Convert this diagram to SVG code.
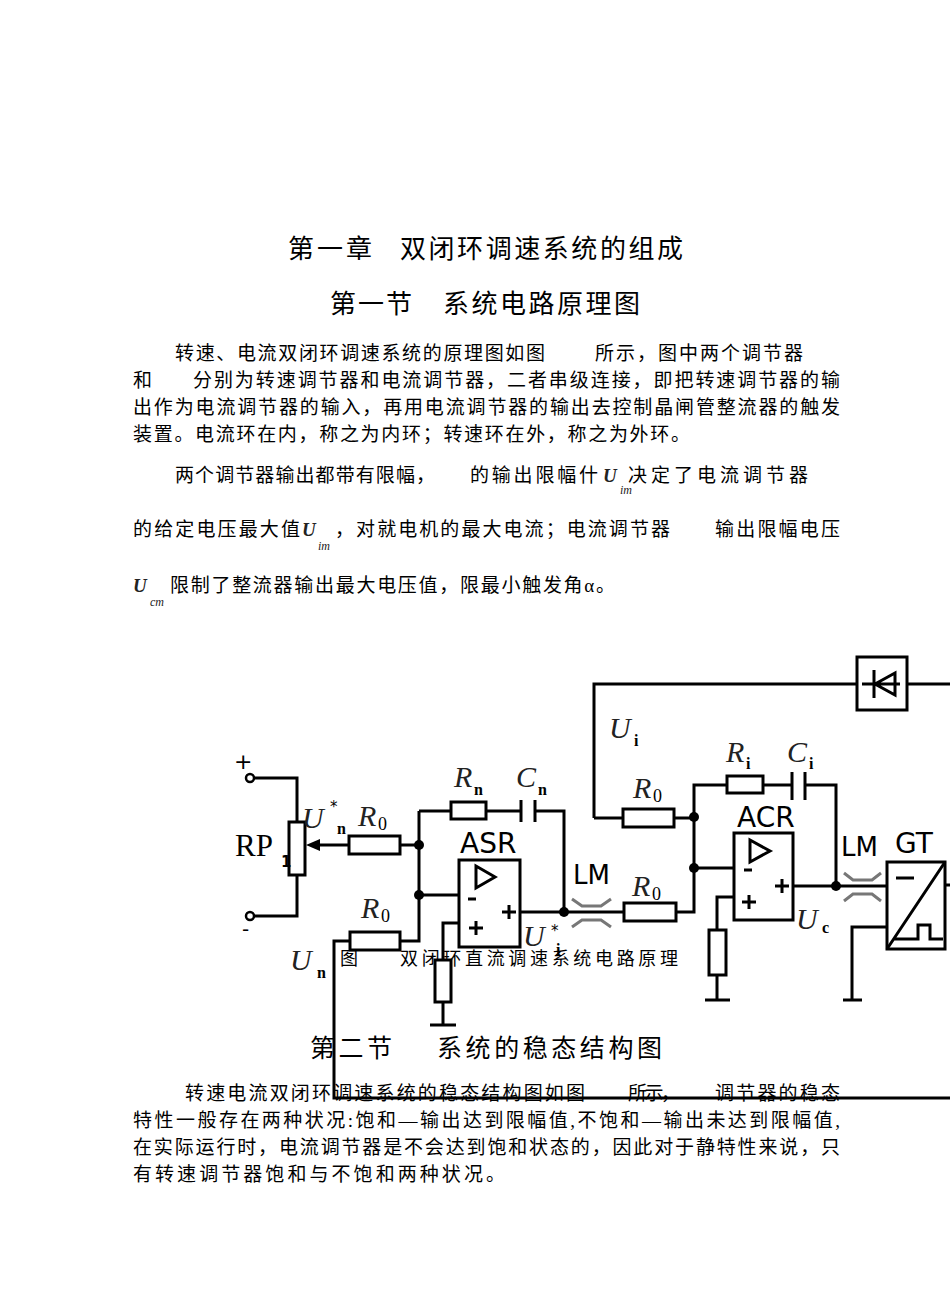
<svg xmlns="http://www.w3.org/2000/svg" width="950" height="1315" viewBox="0 0 950 1315">
<style>
.t{font-family:"Liberation Serif","Noto Sans CJK SC",serif;fill:#000}
.p{font-size:19px}
.m{font-family:"Liberation Serif",serif;font-style:italic;fill:#222}
.L{font-size:30px}
.sb{font-family:"Liberation Serif",serif;font-size:16px;font-weight:bold;fill:#000}
.z{font-family:"Liberation Serif",serif;font-size:18px;fill:#000}
.s{font-family:"DejaVu Sans",sans-serif;fill:#000}
.w{fill:none;stroke:#000;stroke-width:3}
.r{fill:#fff;stroke:#000;stroke-width:3}
.lm{fill:none;stroke:#777;stroke-width:3}
</style>
<rect width="950" height="1315" fill="#fff"/>
<g id="text">
<text class="t" x="288" y="258" font-size="26" textLength="84">第一章</text>
<text class="t" x="400" y="258" font-size="26" textLength="283">双闭环调速系统的组成</text>
<text class="t" x="330" y="313" font-size="26" textLength="82">第一节</text>
<text class="t" x="443" y="313" font-size="26" textLength="197">系统电路原理图</text>
<text class="t p" x="175" y="360" textLength="370">转速、电流双闭环调速系统的原理图如图</text>
<text class="t p" x="595" y="360" textLength="208">所示，图中两个调节器</text>
<text class="t p" x="133" y="387">和</text>
<text class="t p" x="193" y="387" textLength="647">分别为转速调节器和电流调节器，二者串级连接，即把转速调节器的输</text>
<text class="t p" x="133" y="414" textLength="707">出作为电流调节器的输入，再用电流调节器的输出去控制晶闸管整流器的触发</text>
<text class="t p" x="133" y="441" textLength="557">装置。电流环在内，称之为内环；转速环在外，称之为外环。</text>
<text class="t p" x="175" y="482" textLength="260">两个调节器输出都带有限幅，</text>
<text class="t p" x="470" y="482" textLength="128">的输出限幅什</text>
<text class="m" x="603" y="482" font-size="19" font-weight="bold">U</text>
<text class="m" x="620" y="494" font-size="12">im</text>
<text class="t p" x="628" y="482" textLength="180">决定了电流调节器</text>
<text class="t p" x="133" y="536" textLength="167">的给定电压最大值</text>
<text class="m" x="302" y="536" font-size="19" font-weight="bold">U</text>
<text class="m" x="318" y="550" font-size="12">im</text>
<text class="t p" x="335" y="536" textLength="335">，对就电机的最大电流；电流调节器</text>
<text class="t p" x="715" y="536" textLength="125">输出限幅电压</text>
<text class="m" x="133" y="592" font-size="19" font-weight="bold">U</text>
<text class="m" x="150" y="606" font-size="12">cm</text>
<text class="t p" x="170" y="592" textLength="445">限制了整流器输出最大电压值，限最小触发角α。</text>
<text class="t" x="340" y="965" font-size="18">图</text>
<text class="t" x="400" y="965" font-size="18" textLength="278">双闭环直流调速系统电路原理</text>
<text class="t" x="310" y="1057" font-size="25" textLength="82">第二节</text>
<text class="t" x="437" y="1057" font-size="25" textLength="225">系统的稳态结构图</text>
<text class="t p" x="185" y="1100" textLength="400">转速电流双闭环调速系统的稳态结构图如图</text>
<text class="t p" x="628" y="1100" textLength="52">所示，</text>
<text class="t p" x="715" y="1100" textLength="125">调节器的稳态</text>
<text class="t p" x="133" y="1127" textLength="707">特性一般存在两种状况:饱和—输出达到限幅值,不饱和—输出未达到限幅值,</text>
<text class="t p" x="133" y="1154" textLength="707">在实际运行时，电流调节器是不会达到饱和状态的，因此对于静特性来说，只</text>
<text class="t p" x="133" y="1181" textLength="372">有转速调节器饱和与不饱和两种状况。</text>
</g>
<g id="connectors">
<path class="w" d="M254,778H297V822M297,875V916H254"/>
<path class="w" d="M348,845H316"/>
<path d="M306,845L320,839L320,851Z" fill="#000"/>
<path class="w" d="M400,845H419M419,811V941H400M419,811H451M486,811H521M535,811H564V912M419,895H459M350,941H334V1098H950"/>
<path class="w" d="M520,912H624M676,912H694V785H727M763,785H792M805,785H836V886M694,868H734"/>
<path class="w" d="M459,923H443V960M443,1002V1025M430,1025H456"/>
<path class="w" d="M594,818V684H857M907,684H950M594,818H623M674,818H694"/>
<path class="w" d="M734,897H717V930M717,975V1000M705,1000H730"/>
<path class="w" d="M793,886H886M946,885H950M886,927H852V1000M843,1000H862"/>
<path class="w" d="M521,800V822M535,800V822M792,772V800M805,772V800"/>
<g fill="#000"><circle cx="419" cy="845" r="5"/><circle cx="419" cy="895" r="5"/><circle cx="564" cy="912" r="5"/><circle cx="694" cy="817" r="5"/><circle cx="694" cy="868" r="5"/><circle cx="836" cy="886" r="5"/></g>
<path class="lm" d="M572,899L582,906H601L611,899M572,927L582,920H601L611,927"/>
<path class="lm" d="M844,873L853,880H872L881,873M844,901L853,894H872L881,901"/>
</g>
<g id="terminals" fill="#fff" stroke="#000" stroke-width="2.5"><circle cx="250" cy="778" r="4"/><circle cx="250" cy="916" r="4"/></g>
<g id="RP1"><rect class="r" x="289" y="822" width="16" height="53"/></g>
<g id="R0a"><rect class="r" x="349" y="836" width="51" height="18"/></g>
<g id="Rn"><rect class="r" x="451" y="802" width="35" height="17"/></g>
<g id="R0b"><rect class="r" x="350" y="932" width="50" height="18"/></g>
<g id="Rg1"><rect class="r" x="435" y="960" width="16" height="42"/></g>
<g id="ASR"><rect class="r" x="459" y="860" width="61" height="87"/><path class="w" d="M476,866V888L495,877Z"/>
<path class="w" d="M468,899H476M469,928H483M476,921V935M502,912H516M509,905V919" stroke-width="2.5"/></g>
<g id="R0c"><rect class="r" x="624" y="903" width="52" height="18"/></g>
<g id="R0d"><rect class="r" x="623" y="809" width="51" height="18"/></g>
<g id="Ri"><rect class="r" x="727" y="776" width="36" height="17"/></g>
<g id="Rg2"><rect class="r" x="709" y="930" width="17" height="45"/></g>
<g id="ACR"><rect class="r" x="734" y="833" width="59" height="87"/><path class="w" d="M750,840V862L770,851Z"/>
<path class="w" d="M744,870H752M742,902H756M749,895V909M775,886H789M782,879V893" stroke-width="2.5"/></g>
<g id="diode"><rect class="r" x="857" y="657" width="50" height="53"/><path class="w" d="M862,684H900M874,670V698M875,684L895,673V695Z"/></g>
<g id="GT"><rect class="r" x="887" y="862" width="58" height="87"/><path class="w" d="M887,949L945,862M896,878H914M893,939H918V925H930V939H943" stroke-width="2.5"/></g>
<g id="labels">
<text class="s" x="234" y="769" font-size="22">+</text>
<text class="s" x="242" y="936" font-size="20">-</text>
<text class="t" x="235" y="856" font-size="31">RP</text>
<text class="s" x="281" y="867" font-size="15" font-weight="bold">1</text>
<text class="m L" x="302" y="828" fill="#555">U</text><text class="s" x="330" y="812" font-size="15">*</text><text class="sb" x="337" y="834">n</text>
<text class="m L" x="358" y="826">R</text><text class="z" x="378" y="830">0</text>
<text class="m L" x="454" y="787">R</text><text class="sb" x="474" y="795">n</text>
<text class="m L" x="516" y="787" fill="#555">C</text><text class="sb" x="538" y="795">n</text>
<text class="s" x="460" y="853" font-size="28">ASR</text>
<text class="m L" x="361" y="918">R</text><text class="z" x="381" y="922">0</text>
<text class="m L" x="290" y="970" fill="#555">U</text><text class="sb" x="317" y="978">n</text>
<text class="m L" x="523" y="946" fill="#555">U</text><text class="s" x="551" y="936" font-size="15">*</text><text class="sb" x="556" y="955">i</text>
<text class="s" x="573" y="884" font-size="26" fill="#222">LM</text>
<text class="m L" x="632" y="896">R</text><text class="z" x="652" y="900">0</text>
<text class="m L" x="609" y="738" fill="#555">U</text><text class="sb" x="634" y="746">i</text>
<text class="m L" x="633" y="798">R</text><text class="z" x="653" y="802">0</text>
<text class="m L" x="726" y="762">R</text><text class="sb" x="746" y="769">i</text>
<text class="m L" x="787" y="762" fill="#555">C</text><text class="sb" x="809" y="769">i</text>
<text class="s" x="737" y="827" font-size="28">ACR</text>
<text class="m L" x="796" y="929" fill="#555">U</text><text class="sb" x="822" y="933">c</text>
<text class="s" x="841" y="856" font-size="26" fill="#222">LM</text>
<text class="s" x="895" y="853" font-size="28">GT</text>
</g>
</svg>
